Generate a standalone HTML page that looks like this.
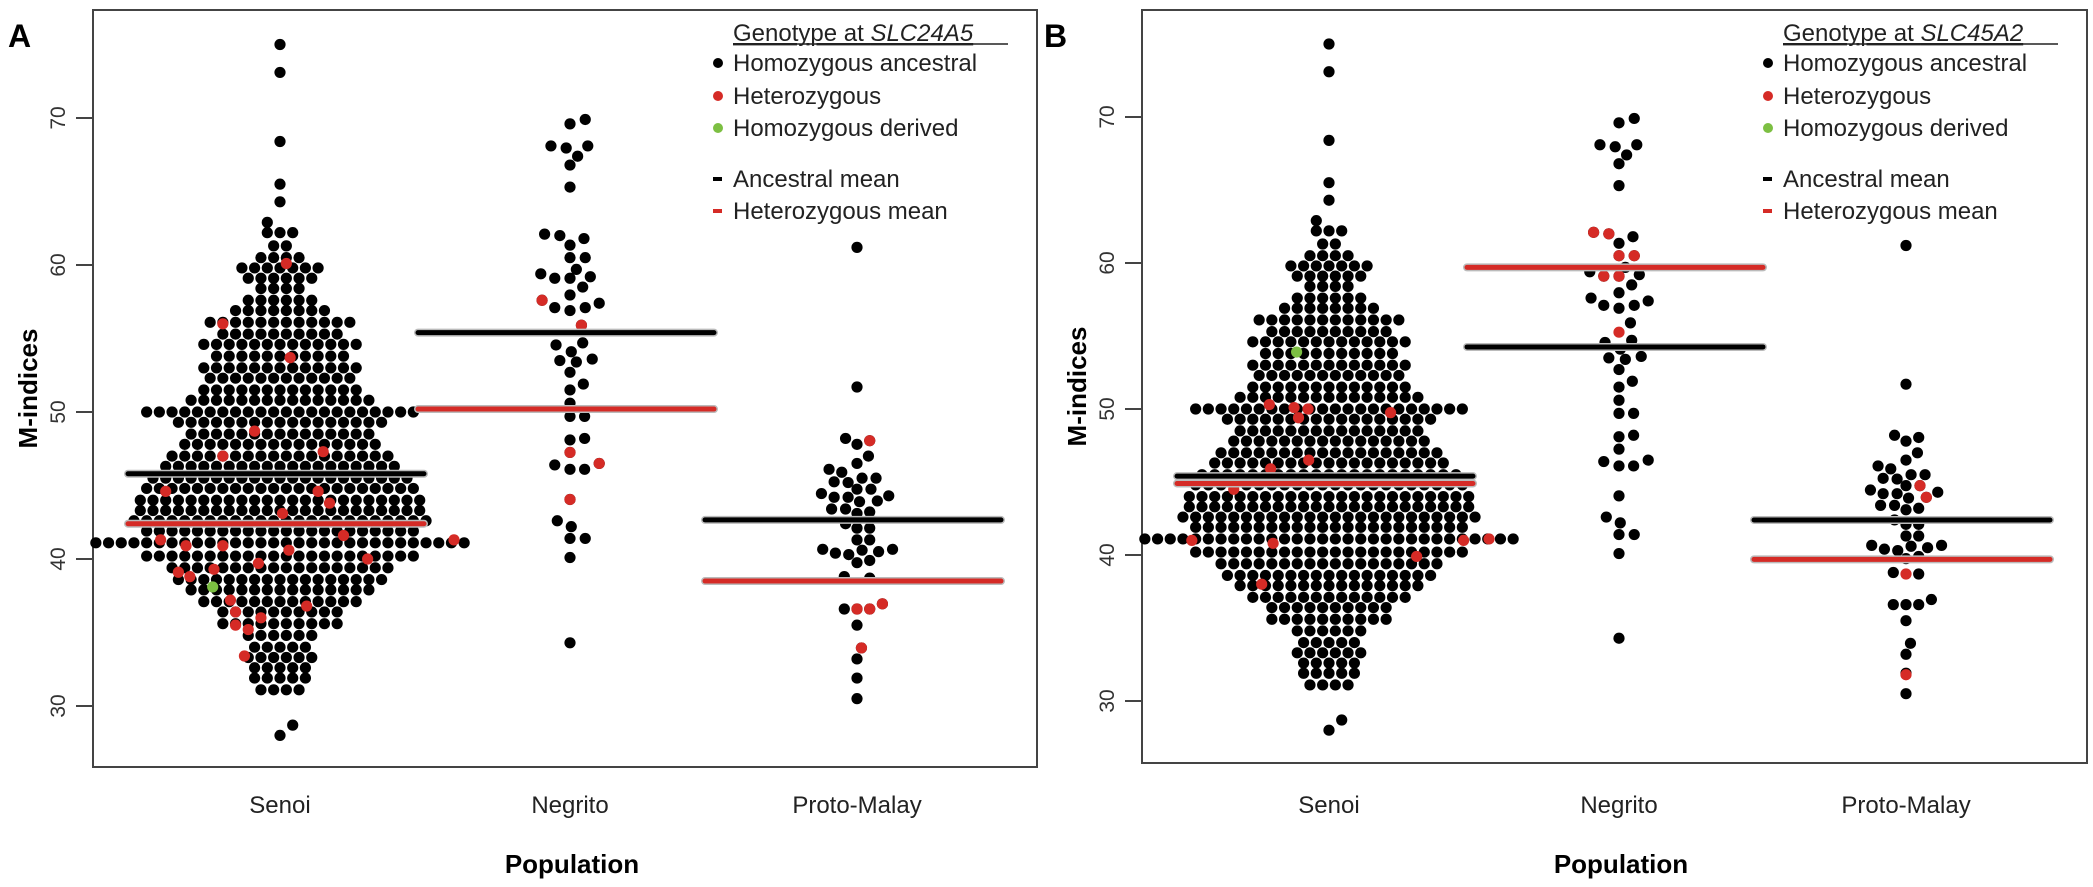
<!DOCTYPE html>
<html><head><meta charset="utf-8">
<style>
html,body{margin:0;padding:0;background:#fff;}
svg{display:block;font-family:"Liberation Sans",Arial,sans-serif;}
</style></head>
<body>
<svg id="chart" width="2093" height="887" viewBox="0 0 2093 887" xmlns="http://www.w3.org/2000/svg"></svg>
<script>
// ---------- data ----------
const categories = ['Senoi','Negrito','Proto-Malay'];
const yTicks = [30,40,50,60,70];
// Senoi swarm rows: [M-index, number of individuals in row]
const senoiRows = [[31.1,4],[31.9,5],[32.6,5],[33.3,6],[34.0,5],[34.8,6],[35.6,10],[36.4,10],[37.1,13],[37.9,15],[38.6,17],[39.4,18],[40.2,22],[41.1,30],[41.9,22],[42.6,24],[43.3,23],[44.0,23],[44.8,22],[45.5,21],[46.3,19],[47.0,18],[47.8,16],[48.5,15],[49.3,17],[50.0,22],[50.8,15],[51.5,13],[52.3,12],[53.0,13],[53.8,11],[54.6,13],[55.3,10],[56.1,12],[56.9,8],[57.6,6],[58.4,4],[59.1,6],[59.8,7],[60.5,4],[61.3,2],[62.2,3]];
const senoiSingles = [[75.0,0],[73.1,0],[68.4,0],[65.5,0],[64.3,0],[62.9,-1],[28.0,0],[28.7,1]];
const negritoPts = [[69.6,0],[69.9,1.2],[68.1,-1.5],[67.96,-0.3],[68.1,1.4],[67.4,0.6],[66.8,0],[65.3,0],[62.1,-2],[62.0,-0.8],[61.35,0],[61.8,1.1],[60.5,0],[60.5,1.2],[59.7,0.5],[59.4,-2.3],[59.1,-1.2],[59.1,0],[59.2,1.6],[58.5,1],[57.96,0],[57.6,-2.2],[57.1,-1.2],[56.9,0],[57.1,1.2],[57.4,2.3],[55.9,0.9],[54.56,-1.1],[54.7,1],[54.1,0.1],[53.5,-0.8],[53.4,0.5],[53.6,1.75],[52.7,0],[51.5,0],[51.9,1.05],[50.6,0],[49.7,0],[49.7,1.15],[48.1,0],[48.2,1.15],[47.25,0],[46.4,-1.2],[46.1,0],[46.1,1.15],[46.5,2.3],[44.05,0],[42.6,-1],[42.2,0.1],[41.4,0],[41.4,1.2],[40.1,0],[34.3,0]];
const protoPts = [[61.2,0],[51.7,0],[48.2,-0.9],[48.05,1],[47.8,0],[47.0,0.9],[46.5,0],[46.1,-2.2],[45.9,-1.2],[45.25,-1.8],[45.2,-0.7],[45.5,0.4],[45.5,1.5],[44.75,0],[44.75,1.1],[44.45,-2.8],[44.2,-1.8],[44.2,-0.7],[43.9,0.2],[43.95,1.6],[44.3,2.5],[43.4,-2],[43.4,-0.9],[43.1,0],[43.2,1],[42.4,-0.9],[42.1,0],[42.1,1],[41.3,0],[41.3,1],[40.66,-2.7],[40.4,-1.7],[40.3,-0.65],[40.6,0.4],[40.5,1.7],[40.66,2.8],[39.75,0],[39.9,1],[38.8,-1],[38.7,1],[36.6,-1],[36.6,0],[36.6,1],[36.95,2],[35.5,0],[33.95,0.35],[33.2,0],[31.9,0],[30.5,0]];
// Genotype overlays: [M-index, slot]
const redA_senoi = [[60.1,0.5],[56.0,-4.5],[53.7,0.8],[48.7,-2],[47.0,-4.5],[47.3,3.4],[44.6,-9],[44.6,3],[43.8,3.9],[43.1,0.2],[41.3,-9.4],[40.9,-7.4],[40.9,-4.5],[40.6,0.7],[41.6,5],[41.3,13.7],[39.7,-1.7],[40.0,6.9],[39.1,-8],[38.8,-7.1],[39.3,-5.2],[37.2,-3.9],[36.4,-3.5],[36.0,-1.5],[36.8,2.1],[35.5,-3.5],[35.2,-2.5],[33.4,-2.8]];
const greenA_senoi = [[38.1,-5.3]];
const redA_negrito = [[57.6,-2.2],[55.9,0.9],[47.25,0],[46.5,2.3],[44.05,0]];
const redA_proto = [[48.05,1],[36.6,0],[36.6,1],[36.95,2],[33.95,0.35]];
const redB_senoi = [[50.3,-4.7],[50.1,-2.75],[50.0,-1.65],[49.4,-2.4],[49.75,4.85],[46.5,-1.6],[45.9,-4.6],[44.5,-7.5],[41.0,-10.8],[40.8,-4.4],[41.0,10.6],[41.1,12.6],[39.9,6.9],[38.0,-5.3]];
const greenB_senoi = [[53.9,-2.55]];
const redB_negrito = [[62.1,-2],[62.0,-0.8],[60.5,0],[60.5,1.2],[59.1,-1.2],[59.1,0],[55.26,0]];
const redB_proto = [[44.75,1.1],[43.95,1.6],[38.7,0],[31.8,0]];
const meansA_ancestral = [45.8,55.4,42.66];
const meansA_het = [42.4,50.2,38.5];
const meansB_ancestral = [45.4,54.25,42.4];
const meansB_het = [44.9,59.7,39.7];

// ---------- rendering ----------
const NS = 'http://www.w3.org/2000/svg';
const svg = document.getElementById('chart');
const BLACK = '#000', RED = '#d52b26', GREEN = '#7cbf42';
const R = 5.6, SLOT = 12.7;
function mk(tag, attrs, parent){ const e=document.createElementNS(NS,tag); for(const k in attrs) e.setAttribute(k,attrs[k]); (parent||svg).appendChild(e); return e; }

function panel(cfg){
  const g = mk('g',{});
  
  
  const y = v => cfg.y40 - (v-40)*cfg.ppu;
  const cx = i => cfg.x0 + cfg.offs[i];
  const box = mk('rect',{x:cfg.x0,y:cfg.y0,width:cfg.x1-cfg.x0,height:cfg.y1-cfg.y0,fill:'none',stroke:'#444','stroke-width':2},g);
  
  
  yTicks.forEach(t=>{
    const tk = mk('line',{x1:cfg.x0-17,x2:cfg.x0,y1:y(t),y2:y(t),stroke:'#444','stroke-width':2},g);
    
    
    const tx = mk('text',{x:0,y:0,transform:`translate(${cfg.x0-28},${y(t)}) rotate(-90)`,'text-anchor':'middle','font-size':21,fill:'#333'},g);
    tx.textContent = t;
    
    
  });
  const yl = mk('text',{x:0,y:0,transform:`translate(${cfg.x0-56},${(cfg.y0+cfg.y1)/2}) rotate(-90)`,'text-anchor':'middle','font-size':26,'font-weight':'bold',fill:'#000'},g);
  yl.textContent='M-indices';
  
  
  categories.forEach((c,i)=>{
    const t = mk('text',{x:cx(i),y:813,'text-anchor':'middle','font-size':24,fill:'#222'},g);
    t.textContent=c;
    
    
  });
  const xl = mk('text',{x:cfg.x0+479,y:873,'text-anchor':'middle','font-size':26,'font-weight':'bold',fill:'#000'},g);
  xl.textContent='Population';
  
  
  const pl = mk('text',{x:cfg.labelX,y:47,'font-size':32,'font-weight':'bold',fill:'#000'},g);
  pl.textContent=cfg.label;
  
  

  function dot(i,v,s,col){
    const c = mk('circle',{cx:cx(i)+s*SLOT,cy:y(v),r:R,fill:col},g);
    
    
  }
  senoiRows.forEach(([v,n])=>{ for(let k=0;k<n;k++) dot(0,v,k-(n-1)/2,BLACK); });
  senoiSingles.forEach(([v,s])=>dot(0,v,s,BLACK));
  negritoPts.forEach(([v,s])=>dot(1,v,s,BLACK));
  protoPts.forEach(([v,s])=>dot(2,v,s,BLACK));
  cfg.reds.forEach((arr,i)=>arr.forEach(([v,s])=>dot(i,v,s,RED)));
  cfg.greens.forEach((arr,i)=>arr.forEach(([v,s])=>dot(i,v,s,GREEN)));

  function mean(i,v,col,nm){
    const h = mk('line',{x1:cx(i)-152,x2:cx(i)+144,y1:y(v),y2:y(v),stroke:'#bbb','stroke-width':8,'stroke-linecap':'round'},g);
    
    
    const l = mk('line',{x1:cx(i)-152,x2:cx(i)+144,y1:y(v),y2:y(v),stroke:col,'stroke-width':5,'stroke-linecap':'round'},g);
    
    
  }
  cfg.anc.forEach((v,i)=>mean(i,v,'#000','ancestral-mean-line'));
  cfg.het.forEach((v,i)=>mean(i,v,'#d52b26','heterozygous-mean-line'));

  // legend
  const lx = cfg.x1 - 304;
  const lg = mk('g',{},g);
  
  
  const tt = mk('text',{x:lx,y:41,'font-size':24,fill:'#222','text-decoration':'underline'},lg);
  tt.innerHTML = 'Genotype at <tspan font-style="italic">'+cfg.gene+'</tspan>';
  
  
  const ul = mk('line',{x1:lx,x2:lx+275,y1:44,y2:44,stroke:'#222','stroke-width':1.5},lg);
  
  
  const items = [['Homozygous ancestral',BLACK,'dot',63],['Heterozygous',RED,'dot',96],['Homozygous derived',GREEN,'dot',128],['Ancestral mean','#000','dash',179],['Heterozygous mean','#d52b26','dash',211]];
  items.forEach(([txt,col,kind,yy])=>{
    const m = kind==='dot' ? mk('circle',{cx:lx-15,cy:yy,r:5,fill:col},lg) : mk('rect',{x:lx-20,y:yy-2,width:9,height:4,fill:col},lg);
    
    
    const t = mk('text',{x:lx,y:yy+8,'font-size':24,fill:'#222'},lg);
    t.textContent = txt;
    
    
  });
}

panel({name:'panel-a',label:'A',labelX:8,gene:'SLC24A5',x0:93,x1:1037,y0:10,y1:767,y40:559,ppu:14.7,offs:[187,477,764],
  reds:[redA_senoi,redA_negrito,redA_proto],greens:[greenA_senoi,[],[]],anc:meansA_ancestral,het:meansA_het});
panel({name:'panel-b',label:'B',labelX:1044,gene:'SLC45A2',x0:1142,x1:2087,y0:10,y1:763,y40:555,ppu:14.6,offs:[187,477,764],
  reds:[redB_senoi,redB_negrito,redB_proto],greens:[greenB_senoi,[],[]],anc:meansB_ancestral,het:meansB_het});
</script>
</body></html>
